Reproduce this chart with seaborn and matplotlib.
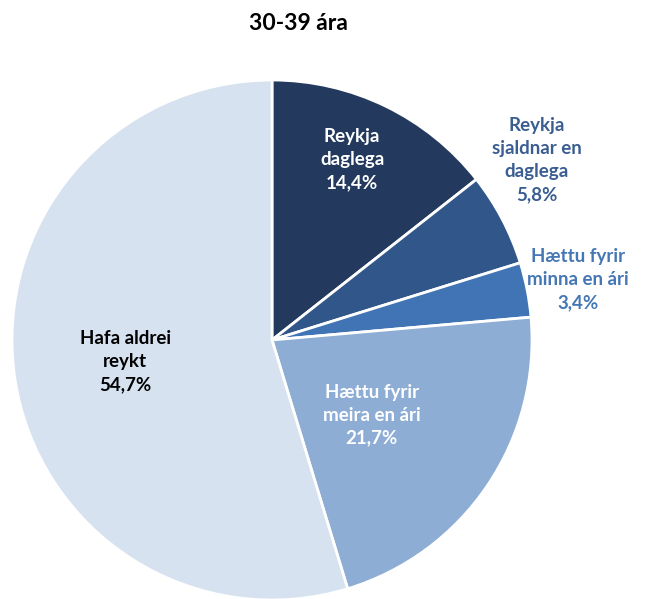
import numpy as np
import matplotlib
matplotlib.use("Agg")
import matplotlib.pyplot as plt
import seaborn as sns

# data (percent)
categories = [
    "Reykja\ndaglega",
    "Reykja\nsjaldnar en\ndaglega",
    "Hættu fyrir\nminna en ári",
    "Hættu fyrir\nmeira en ári",
    "Hafa aldrei\nreykt",
]
values = [14.4, 5.8, 3.4, 21.7, 54.7]
value_labels = ["14,4%", "5,8%", "3,4%", "21,7%", "54,7%"]

colors = ["#233A5E", "#30568A", "#4174B4", "#8DADD5", "#D6E2EF"]
text_colors = ["white", "#3A5E92", "#4677B5", "white", "black"]
# label radius and angle nudge (degrees) for each slice
label_r = [0.76, 1.23, 1.2, 0.48, 0.57]
label_da = [2, 6.5, 0, -3, 0]

sns.set_theme(style="white")
plt.rcParams["font.family"] = ["Lato", "DejaVu Sans"]

fig = plt.figure(figsize=(6.52, 5.99), dpi=100)
ax = fig.add_axes([12 / 652, -1 / 599, 520 / 652, 520 / 599])

wedges, _ = ax.pie(
    values,
    colors=colors,
    startangle=90,
    counterclock=False,
    radius=1,
    wedgeprops=dict(edgecolor="white", linewidth=2),
)

for w, cat, lab, tc, r, da in zip(wedges, categories, value_labels, text_colors, label_r, label_da):
    ang = np.deg2rad((w.theta1 + w.theta2) / 2 + da)
    ax.text(r * np.cos(ang), r * np.sin(ang), f"{cat}\n{lab}",
            ha="center", va="center", color=tc, fontsize=13.5,
            fontweight="bold", linespacing=1.42)

ax.set_xlim(-1, 1)
ax.set_ylim(-1, 1)
ax.set_aspect("equal")
ax.axis("off")

fig.text(298 / 652, 1 - 24 / 599, "30-39 ára", ha="center", va="center",
         fontsize=16.5, fontweight="bold", color="black")

fig.savefig("out.png", dpi=100)
